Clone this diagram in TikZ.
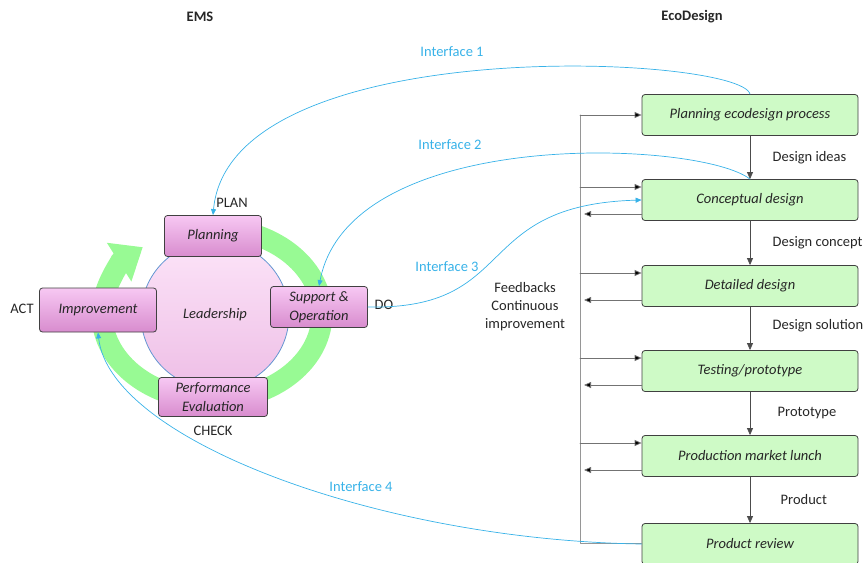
\documentclass[tikz,border=0pt]{standalone}
\usepackage{fontspec}
\setmainfont{Carlito}
\usetikzlibrary{arrows.meta}
\definecolor{boxgreen}{RGB}{206,250,198}
\definecolor{ringgreen}{RGB}{152,250,148}
\definecolor{pinktop}{RGB}{247,200,243}
\definecolor{pinkbot}{RGB}{216,140,206}
\definecolor{leadtop}{RGB}{252,228,248}
\definecolor{leadbot}{RGB}{238,190,230}
\definecolor{leadline}{RGB}{100,150,210}
\definecolor{ifblue}{RGB}{56,178,232}
\definecolor{fbgray}{RGB}{150,150,150}
\definecolor{txt}{RGB}{38,38,38}
\begin{document}
\begin{tikzpicture}[x=1pt, y=-1pt, line join=round, line cap=round,
  font=\fontsize{14.5}{18}\selectfont, text=txt,
  ecobox/.style={draw=black!75, fill=boxgreen, rounded corners=3pt, line width=0.8pt,
    minimum width=216pt, minimum height=41pt, font=\fontsize{14.5}{18}\selectfont\itshape},
  emsbox/.style={draw=black!75, top color=pinktop, bottom color=pinkbot, rounded corners=3pt,
    line width=0.8pt, minimum height=41pt, align=center, inner sep=2pt,
    font=\fontsize{14.5}{19}\selectfont\itshape},
  stepline/.style={draw=black!70, line width=0.7pt, -{Triangle[length=7pt,width=6pt]}},
  fbline/.style={draw=fbgray, line width=1pt},
  fbarrow/.style={draw=black!55, line width=0.8pt, -{Triangle[length=7pt,width=6pt,fill=black]}},
  iface/.style={draw=ifblue, line width=0.7pt, -{Triangle[length=6pt,width=5pt]}},
  ifacelbl/.style={text=ifblue},
  steplbl/.style={right=19pt}]
\useasboundingbox (0,0) rectangle (866,562);
% headers
\node[font=\fontsize{14.5}{18}\selectfont\bfseries] (ems) at (200,17) {EMS};
\node[font=\fontsize{14.5}{18}\selectfont\bfseries] (eco) at (692,17) {EcoDesign};
% EMS cycle
\draw[ringgreen, line width=21pt, -{Triangle[length=28pt,width=44pt]}]
  (212,314) ++(-80:110 and 86) arc[start angle=-80, end angle=231, x radius=110, y radius=86];
\node[circle, draw=leadline, line width=0.8pt, top color=leadtop, bottom color=leadbot,
  minimum size=148pt, font=\fontsize{14.5}{18}\selectfont\itshape] (lead) at (215,315) {Leadership};
\node[emsbox, minimum width=97pt] (plan) at (213,236) {Planning};
\node[emsbox, minimum width=117pt, minimum height=44pt] (impr) at (98,310) {Improvement};
\node[emsbox, minimum width=97pt] (supp) at (319,307) {Support \&\\Operation};
\node[emsbox, minimum width=109pt, minimum height=39pt] (perf) at (213,397) {Performance\\Evaluation};
\node (planlbl) at (232,203) {PLAN};
\node (dolbl) at (384,305) {DO};
\node (checklbl) at (213,431) {CHECK};
\node (actlbl) at (22,309) {ACT};
% EcoDesign steps
\node[ecobox] (pe) at (750,115) {Planning ecodesign process};
\node[ecobox] (cd) at (750,200) {Conceptual design};
\node[ecobox] (dd) at (750,286) {Detailed design};
\node[ecobox] (tp) at (750,371) {Testing/prototype};
\node[ecobox] (pm) at (750,456) {Production market lunch};
\node[ecobox] (pr) at (750,544) {Product review};
\draw[stepline] (pe) -- node[steplbl] {Design ideas} (cd);
\draw[stepline] (cd) -- node[steplbl] {Design concept} (dd);
\draw[stepline] (dd) -- node[steplbl, yshift=3pt] {Design solution} (tp);
\draw[stepline] (tp) -- node[steplbl, xshift=5pt] {Prototype} (pm);
\draw[stepline] (pm) -- node[steplbl, xshift=8pt] {Product} (pr);
% feedback loop
\coordinate (fbtop) at (580,115);
\coordinate (fbbot) at (580,543);
\coordinate (fbend) at (584,543);
\draw[fbline] (fbtop) -- (fbbot) -- (pr.west |- fbbot);
\draw[fbarrow] (fbtop) -- (pe.west);
\foreach \n in {cd,dd,tp,pm}{
  \draw[fbarrow] ([yshift=13pt]\n.west -| fbtop) -- ([yshift=13pt]\n.west);
  \draw[fbarrow] ([yshift=-14pt]\n.west) -- ([yshift=-14pt]\n.west -| fbend);
}
\node[align=center, font=\fontsize{14.5}{18}\selectfont] (fbtxt) at (525,307) {Feedbacks\\Continuous\\improvement};
% interfaces
\draw[iface] (pe.north) .. controls (740,55) and (230,30) .. (plan.north);
\draw[iface] (cd.north) .. controls (700,140) and (350,125) .. (supp.north);
\draw[iface] (supp.east) .. controls (520,310) and (470,205) .. (cd.west);
\draw[iface] (pr.west) .. controls (380,540) and (110,440) .. (impr.south);
\node[ifacelbl] (if1) at (452,52) {Interface 1};
\node[ifacelbl] (if2) at (450,145) {Interface 2};
\node[ifacelbl] (if3) at (447,267) {Interface 3};
\node[ifacelbl] (if4) at (361,487) {Interface 4};
\end{tikzpicture}
\end{document}
